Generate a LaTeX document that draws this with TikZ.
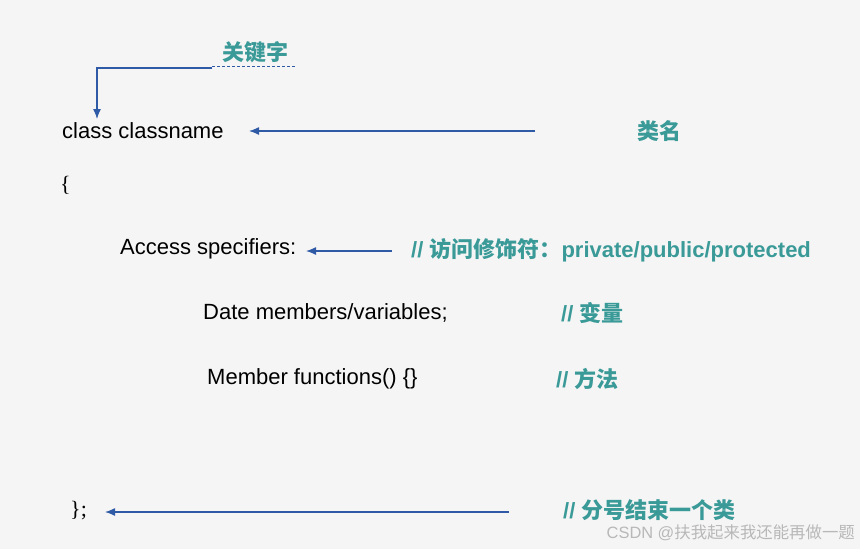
\documentclass[tikz,border=0pt]{standalone}
\usepackage{fontspec}
\setmainfont{Liberation Sans}
\newfontfamily\cjk{Noto Sans CJK SC}
\newfontfamily\serifc{Liberation Serif}
\usetikzlibrary{arrows.meta}
\definecolor{bgc}{HTML}{F5F5F5}
\definecolor{teal1}{HTML}{3A9A98}
\definecolor{arrc}{HTML}{2F5BA6}
\definecolor{wm}{HTML}{B8B8B8}
\begin{document}
\begin{tikzpicture}[x=1pt,y=-1pt,
  code/.style={anchor=west,inner sep=0pt,font=\fontsize{22}{26}\selectfont,text=black},
  note/.style={anchor=west,inner sep=0pt,font=\fontsize{22}{26}\selectfont\bfseries,text=teal1},
  arr/.style={draw=arrc,line width=1.3pt,-{Latex[length=10pt,width=8pt]}}]
\fill[bgc] (0,0) rectangle (860,549);
\useasboundingbox (0,0) rectangle (860,549);
% keyword
\node[note,anchor=center] (kw) at (255,52) {\cjk 关键字};
\coordinate (kwa) at (212,66);
\coordinate (kwb) at (296,66);
\draw[arrc,dashed,line width=1pt,dash pattern=on 3pt off 2pt] (kwa) -- (kwb);
\coordinate (kwl) at (212,68);
\coordinate (kwtip) at (97,119);
\draw[arr] (kwl) -| (kwtip);
% class line
\node[code] (cls) at (62,131) {class classname};
\coordinate (c1) at (535,131);
\coordinate (c2) at (249,131);
\draw[arr] (c1) -- (c2);
\node[note,anchor=center] (cn) at (659,131) {\cjk 类名};
% brace
\node[code,font=\serifc\fontsize{22}{26}\selectfont] (lb) at (60,185) {\{};
% access
\node[code] (acc) at (120,249) {Access specifiers:};
\coordinate (a1) at (392,251);
\coordinate (a2) at (306,251);
\draw[arr] (a1) -- (a2);
\node[note] (accn) at (411,250) {// {\cjk 访问修饰符：}private/public/protected};
% data
\node[code] (dat) at (203,313) {Date members/variables;};
\node[note] (datn) at (561,313) {// {\cjk 变量}};
% functions
\node[code] (fun) at (207,379) {Member functions() \{\}};
\node[note] (funn) at (556,379) {// {\cjk 方法}};
% end
\node[code,font=\serifc\fontsize{22}{26}\selectfont] (rb) at (70,511) {\};};
\coordinate (e1) at (509,512);
\coordinate (e2) at (105,512);
\draw[arr] (e1) -- (e2);
\node[note] (endn) at (563,510) {// {\cjk 分号结束一个类}};
% watermark
\node[anchor=east,inner sep=0pt,font=\fontsize{16.4}{19}\selectfont,text=wm] (wmk) at (855,533) {CSDN @{\cjk 扶我起来我还能再做一题}};
\end{tikzpicture}
\end{document}
